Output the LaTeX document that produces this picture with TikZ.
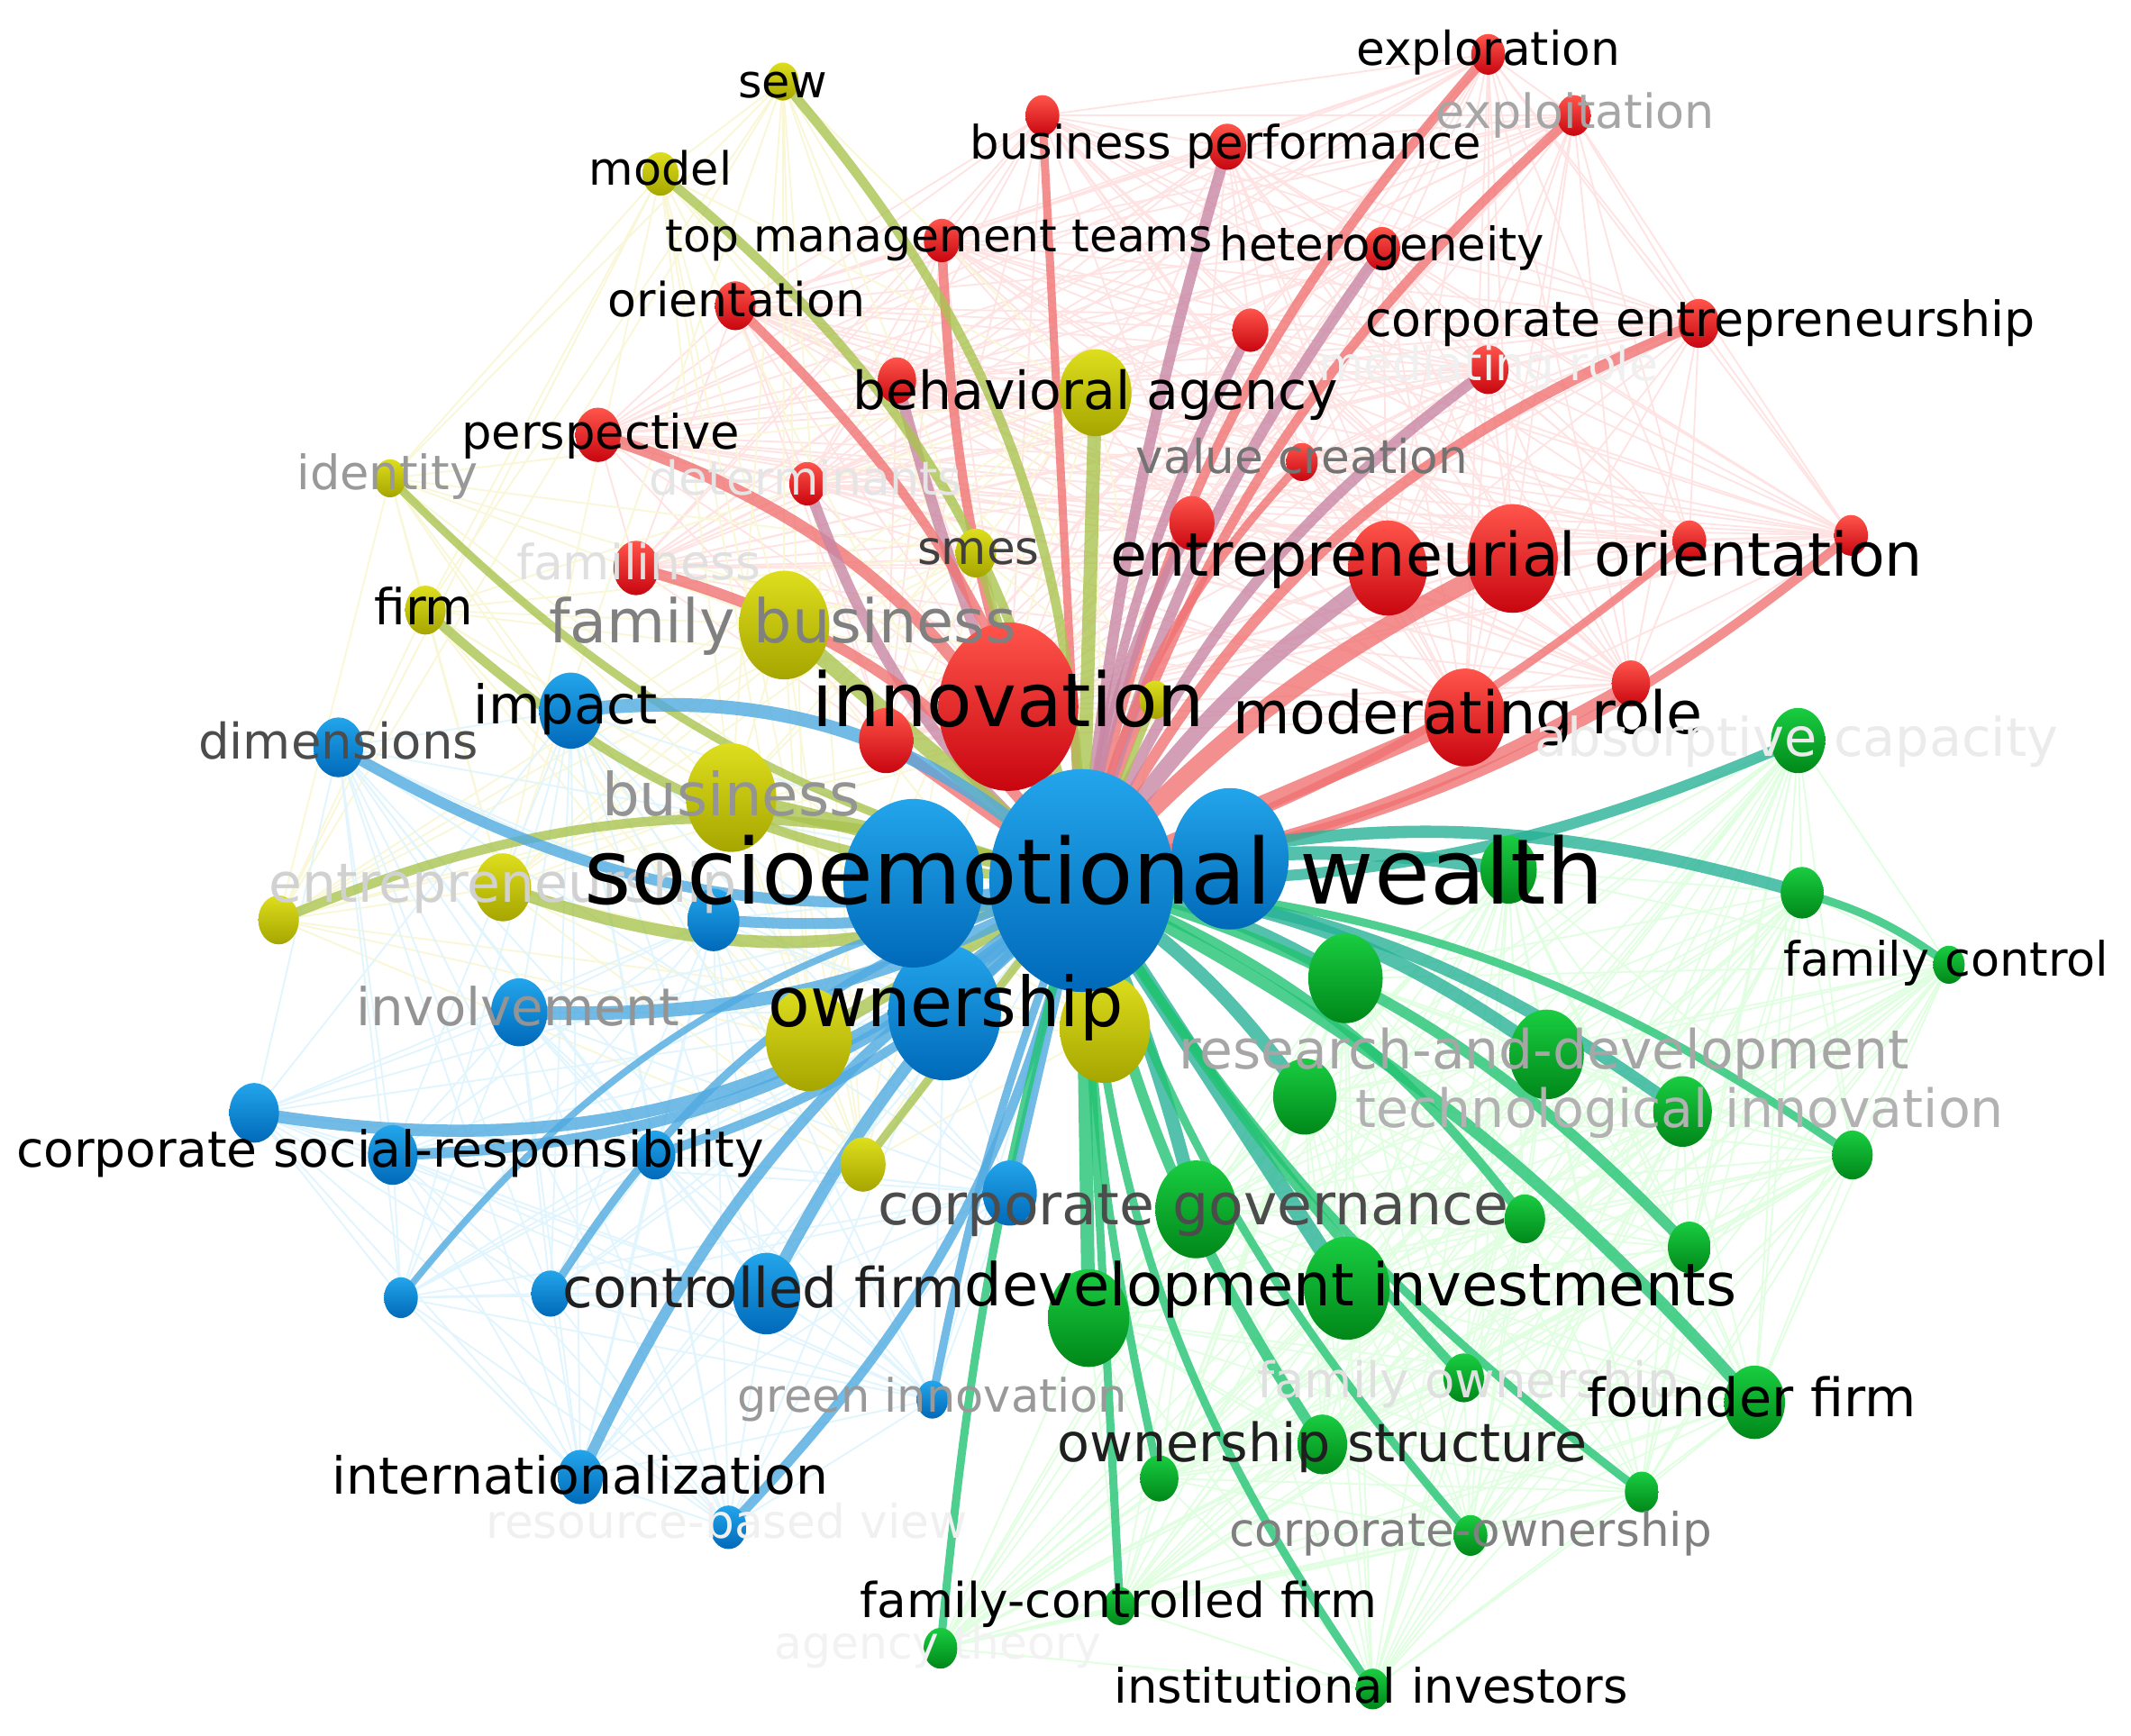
\documentclass[tikz,border=0pt]{standalone}
\usepackage{fontspec}
\setmainfont{DejaVu Sans}
\usetikzlibrary{shapes.geometric}
\pgfdeclarelayer{bgfill}\pgfdeclarelayer{web}\pgfdeclarelayer{edges}
\pgfsetlayers{bgfill,web,edges,main}
\definecolor{rT}{RGB}{255,85,75}\definecolor{rB}{RGB}{200,5,15}
\definecolor{yT}{RGB}{222,222,30}\definecolor{yB}{RGB}{165,165,0}
\definecolor{bT}{RGB}{35,165,235}\definecolor{bB}{RGB}{0,105,185}
\definecolor{gT}{RGB}{25,205,65}\definecolor{gB}{RGB}{0,135,25}
\definecolor{eR}{RGB}{240,115,115}\definecolor{eM}{RGB}{200,135,165}
\definecolor{eY}{RGB}{170,195,80}\definecolor{eB}{RGB}{80,170,225}
\definecolor{eG}{RGB}{35,195,115}\definecolor{eT}{RGB}{40,178,150}
\newcommand\fit[2]{\setbox0=\hbox{\fontsize{10}{10}\selectfont #2}%
 \pgfmathsetmacro\fitsz{10*#1/\the\wd0}%
 \raisebox{-0.3\dimexpr\fitsz pt\relax}{\fontsize{\fitsz}{\fitsz}\selectfont #2}}
\tikzset{
 bR/.style={ellipse,inner sep=0,top color=rT,bottom color=rB,minimum width={1.66*#1},minimum height={2*#1}},
 bY/.style={ellipse,inner sep=0,top color=yT,bottom color=yB,minimum width={1.66*#1},minimum height={2*#1}},
 bBl/.style={ellipse,inner sep=0,top color=bT,bottom color=bB,minimum width={1.66*#1},minimum height={2*#1}},
 bG/.style={ellipse,inner sep=0,top color=gT,bottom color=gB,minimum width={1.66*#1},minimum height={2*#1}},
 lab/.style={anchor=base,inner sep=0},
 edge/.style={opacity=0.8,line cap=round},
 webR/.style={draw=red!11,line width=1.2},
 webY/.style={draw=yellow!60!olive!14,line width=1.2},
 webB/.style={draw=cyan!12,line width=1.2},
 webG/.style={draw=green!12,line width=1.2},
}
\begin{document}
\begin{tikzpicture}[x=1pt,y=-1pt]
\useasboundingbox (0,0) rectangle (1568,1277);
\begin{pgfonlayer}{bgfill}\fill[white] (0,0) rectangle (1568,1277);\end{pgfonlayer}
% ---------------- small balls
% red
\node[bR=17] (rmr) at (1200,503) {};
\node[bR=24] (rin) at (652,545) {};
\node[bR=17] (rbeh) at (660,280) {};
\node[bR=20] (persp) at (440,320) {};
\node[bR=18] (orient) at (541,225) {};
\node[bR=16] (tmt) at (693,177) {};
\node[bR=17] (bperf) at (903,108) {};
\node[bR=15] (explor) at (1095,40) {};
\node[bR=15] (exploit) at (1158,85) {};
\node[bR=16] (heter) at (1017,183) {};
\node[bR=18] (corpent) at (1250,238) {};
\node[bR=15] (rtop) at (767,85) {};
\node[bR=16] (rmid) at (920,243) {};
\node[bR=18] (medrole) at (1095,272) {};
\node[bR=14] (valcr) at (958,340) {};
\node[bR=20] (rvc) at (877,385) {};
\node[bR=16] (determ) at (594,356) {};
\node[bR=20] (famil) at (468,418) {};
\node[bR=15] (reone) at (1243,398) {};
\node[bR=15] (retwo) at (1362,394) {};
% yellow
\node[bY=14] (sewy) at (576,60) {};
\node[bY=16] (model) at (486,128) {};
\node[bY=14] (ident) at (287,352) {};
\node[bY=18] (firm) at (313,449) {};
\node[bY=18] (smes) at (718,407) {};
\node[bY=25] (entre) at (370,653) {};
\node[bY=18] (yenttwo) at (205,677) {};
\node[bY=20] (ylow) at (635,857) {};
\node[bY=14] (ysmall) at (850,515) {};
% blue
\node[bBl=28] (impact) at (420,523) {};
\node[bBl=22] (dimen) at (249,550) {};
\node[bBl=25] (invol) at (382,745) {};
\node[bBl=23] (bmid) at (525,677) {};
\node[bBl=22] (bcsrone) at (187,819) {};
\node[bBl=22] (csr) at (289,850) {};
\node[bBl=18] (bcsrtwo) at (482,850) {};
\node[bBl=30] (ctrl) at (564,952) {};
\node[bBl=24] (bcg) at (743,878) {};
\node[bBl=17] (blone) at (405,952) {};
\node[bBl=15] (bltwo) at (295,955) {};
\node[bBl=14] (greeninn) at (686,1030) {};
\node[bBl=20] (intl) at (427,1087) {};
\node[bBl=16] (rbv) at (536,1124) {};
% green
\node[bG=24] (absorp) at (1323,545) {};
\node[bG=19] (gfctwo) at (1326,657) {};
\node[bG=14] (famctrl) at (1434,710) {};
\node[bG=25] (gw) at (1110,640) {};
\node[bG=33] (ga) at (990,720) {};
\node[bG=33] (rnd) at (1138,776) {};
\node[bG=26] (techinn) at (1238,818) {};
\node[bG=28] (gb) at (960,807) {};
\node[bG=18] (gc) at (1363,850) {};
\node[bG=36] (corpgov) at (880,890) {};
\node[bG=18] (gd) at (1122,897) {};
\node[bG=19] (ge) at (1243,918) {};
\node[bG=38] (devinv) at (991,948) {};
\node[bG=36] (gdevtwo) at (801,970) {};
\node[bG=27] (founder) at (1291,1032) {};
\node[bG=18] (famown) at (1077,1014) {};
\node[bG=22] (ownstr) at (973,1063) {};
\node[bG=17] (gf) at (853,1088) {};
\node[bG=15] (gg) at (1208,1098) {};
\node[bG=15] (corpown) at (1082,1130) {};
\node[bG=14] (fcf) at (824,1182) {};
\node[bG=15] (agency) at (692,1213) {};
\node[bG=15] (instinv) at (1010,1243) {};
% big balls
\node[bR=36] (modr) at (1078,528) {};
\node[bR=35] (eotwo) at (1021,418) {};
\node[bR=40] (eo) at (1113,411) {};
\node[bY=32] (behag) at (806,289) {};
\node[bY=40] (fambus) at (577,460) {};
\node[bY=40] (busi) at (538,587) {};
\node[bR=62] (innov) at (742,520) {};
\node[bY=38] (yownone) at (595,765) {};
\node[bY=40] (yowntwo) at (813,757) {};
\node[bBl=50] (own) at (695,745) {};
\node[bBl=62] (hubA) at (672,650) {};
\node[bBl=52] (hubB) at (905,632) {};
\node[bBl=82] (hub) at (796,648) {};
% ---------------- web
\def\redlist{innov,eo,eotwo,modr,rmr,rin,rbeh,persp,orient,tmt,bperf,explor,exploit,heter,corpent,rtop,rmid,medrole,valcr,rvc,determ,famil,reone,retwo}
\def\yellist{behag,sewy,model,ident,firm,fambus,smes,busi,entre,yenttwo,yownone,yowntwo,ylow,ysmall}
\def\bluelist{hub,own,impact,dimen,invol,bmid,bcsrone,csr,bcsrtwo,ctrl,bcg,blone,bltwo,greeninn,intl,rbv}
\def\greenlist{absorp,gfctwo,famctrl,gw,ga,rnd,techinn,gb,gc,corpgov,gd,ge,devinv,gdevtwo,founder,famown,ownstr,gf,gg,corpown,fcf,agency,instinv}
\begin{pgfonlayer}{web}
\foreach \a [count=\i] in \redlist {\foreach \b [count=\j] in \redlist {\ifnum\j>\i \draw[webR] (\a.center) -- (\b.center);\fi}}
\foreach \a [count=\i] in \yellist {\foreach \b [count=\j] in \yellist {\ifnum\j>\i \draw[webY] (\a.center) -- (\b.center);\fi}}
\foreach \a [count=\i] in \bluelist {\foreach \b [count=\j] in \bluelist {\ifnum\j>\i \draw[webB] (\a.center) -- (\b.center);\fi}}
\foreach \a [count=\i] in \greenlist {\foreach \b [count=\j] in \greenlist {\ifnum\j>\i \draw[webG] (\a.center) -- (\b.center);\fi}}
\end{pgfonlayer}
% ---------------- thick edges (positive bend = bulge to the left seen from the hub)
\begin{pgfonlayer}{edges}
\foreach \t/\c/\w/\b in {
 innov/eR/16/0, eo/eR/14/10, eotwo/eM/12/10, modr/eR/12/0, rmr/eR/8/-10, rin/eR/8/0, rbeh/eM/8/5,
 persp/eR/9/-25, orient/eR/7/-15, tmt/eR/7/10, bperf/eM/8/5, explor/eR/7/15, exploit/eR/7/15, heter/eM/8/10,
 corpent/eR/8/20, rtop/eR/6/0, rmid/eM/7/10, medrole/eM/8/15, valcr/eR/6/15, rvc/eM/8/10, determ/eM/8/15,
 famil/eR/8/-20, reone/eR/6/-10, retwo/eR/7/-15,
 behag/eY/10/0, sewy/eY/7/-20, model/eY/7/-20, ident/eY/6/15, firm/eY/7/20, fambus/eY/12/0, smes/eY/6/0,
 busi/eY/12/0, entre/eY/9/20, yenttwo/eY/7/-20, yownone/eY/10/0, yowntwo/eY/10/0, ylow/eY/6/0, ysmall/eY/5/0,
 impact/eB/10/-25, dimen/eB/8/20, invol/eB/10/15, bmid/eB/8/10, bcsrone/eB/9/25, csr/eB/8/20, bcsrtwo/eB/7/15,
 ctrl/eB/9/-10, bcg/eB/8/0, blone/eB/6/-20, bltwo/eB/5/-20, greeninn/eB/6/-5, intl/eB/8/-15, rbv/eB/7/15,
 absorp/eT/8/-12, gfctwo/eT/9/15, gw/eT/10/10, ga/eT/10/10, rnd/eT/10/15, techinn/eT/9/15,
 gb/eT/10/10, gc/eG/6/15, corpgov/eT/10/5, gd/eG/7/15, ge/eG/8/15, devinv/eT/12/0, gdevtwo/eG/10/0,
 founder/eG/9/10, famown/eG/7/-5, ownstr/eG/8/-10, gf/eG/6/-5, gg/eG/6/-10, corpown/eG/6/-10, fcf/eG/6/0,
 agency/eG/6/-5, instinv/eG/6/-15}
 {\draw[edge,draw=\c,line width=\w] (hub.center) to[bend left=\b] (\t.center);}
\draw[edge,draw=eG,line width=6] (gfctwo.center) to[bend left=10] (famctrl.center);
\end{pgfonlayer}
% ---------------- labels
\node[lab] (lexplor) at (1095,38) {\fit{194}{exploration}};
\node[lab,text=black!35] (lexploit) at (1159,84) {\fit{205}{exploitation}};
\node[lab] (lbperf) at (902,107) {\fit{376}{business performance}};
\node[lab] (lsewy) at (576,62) {\fit{66}{sew}};
\node[lab] (lmodel) at (486,126) {\fit{105}{model}};
\node[lab] (ltmt) at (691,175) {\fit{403}{top management teams}};
\node[lab] (lheter) at (1017,182) {\fit{239}{heterogeneity}};
\node[lab] (lorient) at (542,223) {\fit{189}{orientation}};
\node[lab] (lcorpent) at (1251,237) {\fit{493}{corporate entrepreneurship}};
\node[lab,text=black!6] (lmedrole) at (1095,270) {\fit{250}{mediating role}};
\node[lab] (lbehag) at (806,290) {\fit{357}{behavioral agency}};
\node[lab] (lpersp) at (442,320) {\fit{205}{perspective}};
\node[lab,text=black!55] (lvalcr) at (958,338) {\fit{244}{value creation}};
\node[lab,text=black!40] (lident) at (285,350) {\fit{133}{identity}};
\node[lab,text=black!10] (ldeterm) at (593,354) {\fit{230}{determinants}};
\node[lab,text=black!75] (lsmes) at (720,405) {\fit{90}{smes}};
\node[lab] (leo) at (1116,411) {\fit{598}{entrepreneurial orientation}};
\node[lab,text=black!12] (lfamil) at (470,416) {\fit{180}{familiness}};
\node[lab] (lfirm) at (312,449) {\fit{73}{firm}};
\node[lab,text=black!50] (lfambus) at (576,460) {\fit{344}{family business}};
\node[lab] (linnov) at (742,518) {\fit{289}{innovation}};
\node[lab] (limpact) at (416,521) {\fit{135}{impact}};
\node[lab] (lmodr) at (1080,527) {\fit{346}{moderating role}};
\node[lab,text=black!8] (labsorp) at (1322,545) {\fit{385}{absorptive capacity}};
\node[lab,text=black!70] (ldimen) at (249,548) {\fit{206}{dimensions}};
\node[lab,text=black!42] (lbusi) at (538,587) {\fit{190}{business}};
\node[lab,text=black!18] (lentre) at (370,652) {\fit{344}{entrepreneurship}};
\node[lab] (lhub) at (805,645) {\fit{750}{socioemotional wealth}};
\node[lab] (lfamctrl) at (1432,708) {\fit{239}{family control}};
\node[lab] (lown) at (696,740) {\fit{261}{ownership}};
\node[lab,text=black!42] (linvol) at (381,743) {\fit{238}{involvement}};
\node[lab,text=black!35] (lrnd) at (1136,775) {\fit{537}{research-and-development}};
\node[lab,text=black!30] (ltechinn) at (1236,818) {\fit{477}{technological innovation}};
\node[lab] (lcsr) at (287,848) {\fit{550}{corporate social-responsibility}};
\node[lab,text=black!70] (lcorpgov) at (878,889) {\fit{464}{corporate governance}};
\node[lab,text=black!88] (lctrl) at (562,950) {\fit{296}{controlled firm}};
\node[lab] (ldevinv) at (994,948) {\fit{568}{development investments}};
\node[lab,text=black!12] (lfamown) at (1080,1018) {\fit{310}{family ownership}};
\node[lab,text=black!40] (lgreeninn) at (686,1029) {\fit{287}{green innovation}};
\node[lab] (lfounder) at (1289,1031) {\fit{242}{founder firm}};
\node[lab,text=black!88] (lownstr) at (973,1064) {\fit{390}{ownership structure}};
\node[lab] (lintl) at (427,1088) {\fit{365}{internationalization}};
\node[lab,text=black!6] (lrbv) at (535,1122) {\fit{354}{resource-based view}};
\node[lab,text=black!50] (lcorpown) at (1082,1128) {\fit{355}{corporate-ownership}};
\node[lab] (lfcf) at (823,1180) {\fit{380}{family-controlled firm}};
\node[lab,text=black!5] (lagency) at (690,1211) {\fit{240}{agency theory}};
\node[lab] (linstinv) at (1009,1243) {\fit{378}{institutional investors}};
\end{tikzpicture}
\end{document}
